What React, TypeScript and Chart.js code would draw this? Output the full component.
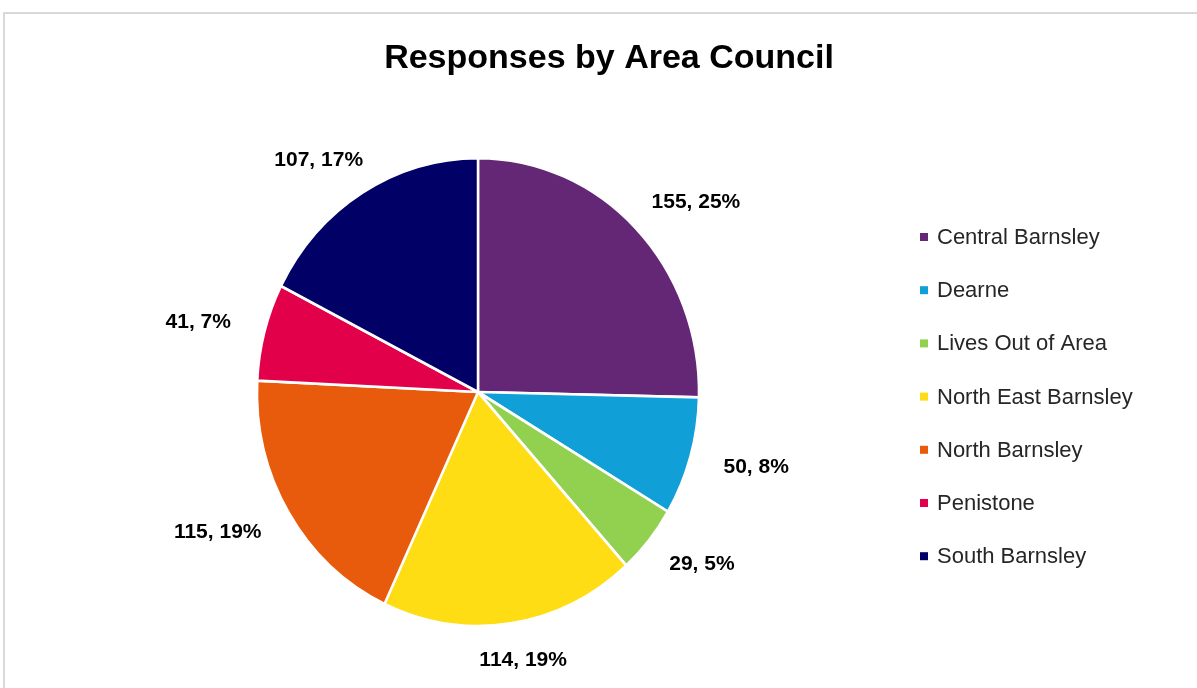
import React, { useEffect, useRef } from "react";
import { Chart, registerables } from "chart.js";

Chart.register(...registerables);

const categories = [
  "Central Barnsley",
  "Dearne",
  "Lives Out of Area",
  "North East Barnsley",
  "North Barnsley",
  "Penistone",
  "South Barnsley",
];
const responses = [155, 50, 29, 114, 115, 41, 107];
// percentages as printed on the reference labels
const percentLabels = [25, 8, 5, 19, 19, 7, 17];
const colors = ["#632775", "#119fd7", "#92d050", "#ffdd15", "#e85b0d", "#e2004b", "#000066"];
const titleText = "Responses by Area Council";

const W = 1197;
const H = 688;
const Y_SCALE = 235 / 222;

export default function App() {
  const ref = useRef<HTMLCanvasElement | null>(null);

  useEffect(() => {
    if (!ref.current) return;

    const ellipsePlugin = {
      id: "ellipse",
      beforeDatasetsDraw(chart: any) {
        const ctx = chart.ctx;
        const a = chart.chartArea;
        const cx = (a.left + a.right) / 2;
        const cy = (a.top + a.bottom) / 2;
        ctx.save();
        ctx.translate(cx, cy);
        ctx.scale(1, Y_SCALE);
        ctx.translate(-cx, -cy);
      },
      afterDatasetsDraw(chart: any) {
        chart.ctx.restore();
      },
    };

    const framePlugin = {
      id: "frame",
      beforeDraw(chart: any) {
        const ctx = chart.ctx;
        ctx.save();
        ctx.fillStyle = "#ffffff";
        ctx.fillRect(0, 0, W, H);
        ctx.strokeStyle = "#d9d9d9";
        ctx.lineWidth = 2;
        ctx.strokeRect(4, 13, W + 20, H + 20);
        ctx.restore();
      },
      afterDraw(chart: any) {
        const ctx = chart.ctx;
        ctx.save();
        // title
        ctx.fillStyle = "#000000";
        ctx.font = "bold 34px 'Liberation Sans', sans-serif";
        ctx.textAlign = "center";
        ctx.textBaseline = "middle";
        ctx.fillText(titleText, 609, 59);

        // data labels
        const meta = chart.getDatasetMeta(0);
        const data = chart.data.datasets[0].data as number[];
        ctx.font = "bold 21px 'Liberation Sans', sans-serif";
        ctx.fillStyle = "#000000";
        meta.data.forEach((arc: any, i: number) => {
          const p = arc.getProps(["x", "y", "startAngle", "endAngle", "outerRadius"], true);
          const mid = (p.startAngle + p.endAngle) / 2;
          const c = Math.cos(mid);
          const s = Math.sin(mid);
          const r = p.outerRadius + 26;
          const px = p.x + r * c;
          const py = p.y + r * Y_SCALE * s;
          const txt = `${data[i]}, ${percentLabels[i]}%`;
          const w = ctx.measureText(txt).width;
          const h = 20;
          ctx.fillText(txt, px + (c * w) / 2 * 1.3, py + (s * h) / 2);
        });

        // legend
        ctx.font = "22px 'Liberation Sans', sans-serif";
        ctx.textAlign = "left";
        categories.forEach((name, i) => {
          const y = 237 + i * 53.2;
          ctx.fillStyle = colors[i];
          ctx.fillRect(920, y - 4, 8, 8);
          ctx.fillStyle = "#262626";
          ctx.fillText(name, 937, y + 1);
        });
        ctx.restore();
      },
    };

    const chart = new Chart(ref.current, {
      type: "pie",
      data: {
        labels: categories,
        datasets: [
          {
            data: responses,
            backgroundColor: colors,
            borderColor: "#ffffff",
            borderWidth: 2.5,
          },
        ],
      },
      options: {
        responsive: false,
        animation: false,
        radius: 221,
        layout: { padding: { left: 20, right: 261, top: 150, bottom: 54 } },
        plugins: {
          legend: { display: false },
          title: { display: false },
          tooltip: { enabled: false },
        },
      } as any,
      plugins: [framePlugin, ellipsePlugin],
    });
    return () => chart.destroy();
  }, []);

  return (
    <div style={{ position: "fixed", left: 0, top: 0, width: W, height: H, background: "#fff" }}>
      <canvas ref={ref} width={W} height={H} style={{ width: W, height: H, display: "block" }} />
    </div>
  );
}
